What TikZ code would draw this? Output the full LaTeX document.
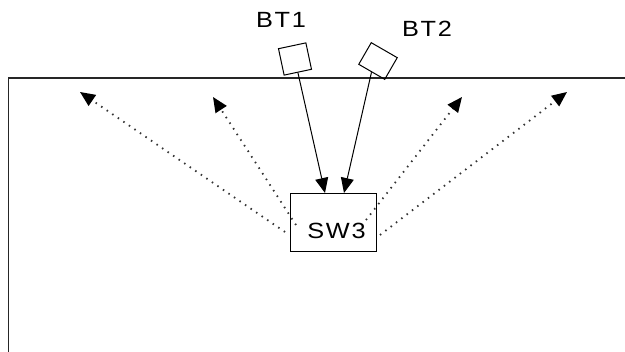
\documentclass[tikz,border=0pt]{standalone}
\usepackage{fontspec}
\setmainfont{Liberation Sans}
\usetikzlibrary{arrows.meta}
\begin{document}
\begin{tikzpicture}[x=1pt,y=-1pt,
  lbl/.style={font=\fontsize{22}{26}\selectfont, inner sep=0pt, xscale=1.15},
  sensor/.style={draw, line width=1pt, inner sep=0pt},
  solidarr/.style={line width=1pt, -{Triangle[length=15pt,width=13pt]}},
  dotarr/.style={line width=1.8pt, dash pattern=on 1.5pt off 5.2pt, draw=black!80, -{Triangle[length=15pt,width=13pt,color=black,fill=black]}}]
\useasboundingbox (0,0) rectangle (625,352);
% room outline
\draw[line width=1.4pt, draw=black!85] (8.5,352) -- (8.5,78) -- (625,78);
% switch
\node[draw, line width=1pt, minimum width=86pt, minimum height=58pt, inner sep=0pt] (sw3) at (333,223) {};
\node[lbl] (sw3t) at (336.5,231) {S\kern1.5pt W\kern1.5pt 3};
% transmitters
\node[sensor, minimum width=28pt, minimum height=27pt, rotate=12] (bt1) at (295,59) {};
\node[sensor, minimum width=30pt, minimum height=25pt, rotate=-30] (bt2) at (378,61) {};
\node[lbl] (bt1t) at (281,19.5) {B\kern1.5pt T\kern1.5pt 1};
\node[lbl] (bt2t) at (427,29) {B\kern1.5pt T\kern1.5pt 2};
% arrow ends
\coordinate (in1) at (325,193);
\coordinate (in2) at (344,193);
\draw[solidarr] (bt1.south) -- (in1);
\draw[solidarr] (bt2.south) -- (in2);
% radiated signals
\coordinate (s1) at (285,232);
\coordinate (s2) at (296,225);
\coordinate (s3) at (366,220);
\coordinate (s4) at (380,235);
\coordinate (t1) at (80,92);
\coordinate (t2) at (213,97);
\coordinate (t3) at (462,97);
\coordinate (t4) at (567,92);
\draw[dotarr] (s1) -- (t1);
\draw[dotarr] (s2) -- (t2);
\draw[dotarr] (s3) -- (t3);
\draw[dotarr] (s4) -- (t4);
\end{tikzpicture}
\end{document}
